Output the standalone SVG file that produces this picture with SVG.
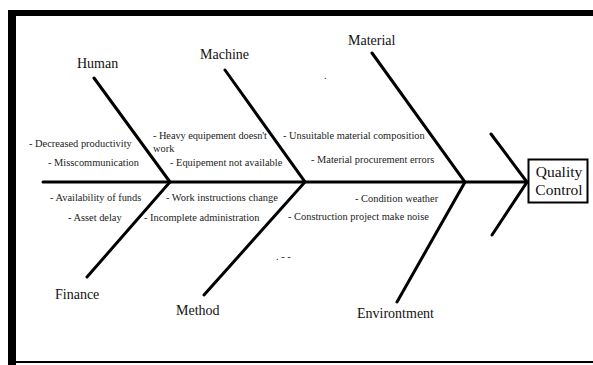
<svg xmlns="http://www.w3.org/2000/svg" width="593" height="365" viewBox="0 0 593 365">
<style>
.bone{stroke:#000;stroke-width:3;stroke-linecap:round;fill:none}
.cat{font-family:"Liberation Serif",serif;font-size:14px;fill:#111}
.cause{font-family:"Liberation Serif",serif;font-size:10.4px;fill:#222}
.head{font-family:"Liberation Serif",serif;font-size:15.5px;fill:#111;text-anchor:middle}
</style>
<rect x="0" y="0" width="593" height="365" fill="#fff"/>
<g id="frame">
<rect x="8" y="10" width="585" height="6" fill="#000"/>
<rect x="8" y="10" width="8" height="355" fill="#000"/>
<rect x="8" y="361" width="585" height="2" fill="#000"/>
</g>
<g id="connectors">
<line class="bone" x1="43" y1="182" x2="527" y2="182"/>
<polyline class="bone" points="94,78 170,182 87,277"/>
<polyline class="bone" points="225,70 305,182 204,295"/>
<polyline class="bone" points="372,53 465,182 397,302"/>
<polyline class="bone" points="491,134 527,182 492,235"/>
</g>
<g id="quality-control">
<rect x="528.5" y="159.5" width="59" height="43" fill="#fff" stroke="#000" stroke-width="2"/>
<text class="head" x="559" y="177">Quality</text>
<text class="head" x="559" y="195">Control</text>
</g>
<g id="human">
<text class="cat" x="77" y="68">Human</text>
<text class="cause" x="29" y="147">- Decreased productivity</text>
<text class="cause" x="48" y="166">- Misscommunication</text>
</g>
<g id="machine">
<text class="cat" x="200" y="59">Machine</text>
<text class="cause" x="153" y="139" textLength="114">- Heavy equipement doesn't</text>
<text class="cause" x="153" y="152">work</text>
<text class="cause" x="170" y="166">- Equipement not available</text>
</g>
<g id="material">
<text class="cat" x="348" y="45">Material</text>
<text class="cause" x="324" y="79">.</text>
<text class="cause" x="283" y="139">- Unsuitable material composition</text>
<text class="cause" x="311" y="163">- Material procurement errors</text>
</g>
<g id="finance">
<text class="cat" x="55" y="299">Finance</text>
<text class="cause" x="50" y="201">- Availability of funds</text>
<text class="cause" x="68" y="221">- Asset delay</text>
</g>
<g id="method">
<text class="cat" x="176" y="315">Method</text>
<text class="cause" x="166" y="201">- Work instructions change</text>
<text class="cause" x="144" y="221">- Incomplete administration</text>
</g>
<g id="environment">
<text class="cat" x="357" y="318">Environtment</text>
<text class="cause" x="355" y="202">- Condition weather</text>
<text class="cause" x="288" y="220">- Construction project make noise</text>
<text class="cause" x="276" y="260">.   - -</text>
</g>
</svg>
